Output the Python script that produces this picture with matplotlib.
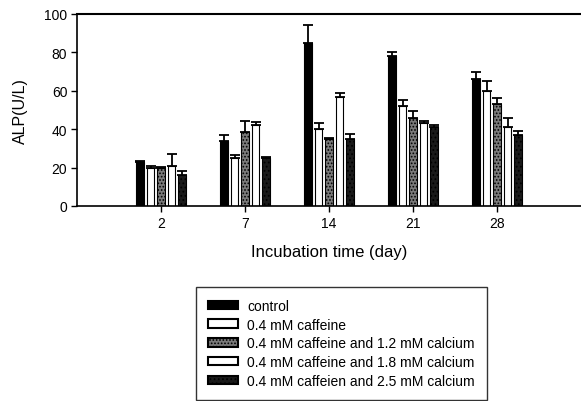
import numpy as np
import matplotlib
matplotlib.use('Agg')
import matplotlib.pyplot as plt
from matplotlib.patches import Patch

plt.rcParams['font.family'] = ['Liberation Sans', 'DejaVu Sans']
plt.rcParams['hatch.linewidth'] = 0.8

days = ['2', '7', '14', '21', '28']
labels = ['control', '0.4 mM caffeine', '0.4 mM caffeine and 1.2 mM calcium',
          '0.4 mM caffeine and 1.8 mM calcium', '0.4 mM caffeien and 2.5 mM calcium']

control = [23, 34, 85, 78, 66]
caff = [20, 25, 40, 52, 60]
caff_12 = [20, 38.5, 35, 46, 53]
caff_18 = [21, 42, 57, 43, 41]
caff_25 = [16, 25, 35, 41, 37]

control_err = [0.5, 3, 9.5, 2, 4]
caff_err = [1, 1.5, 3, 3, 5]
caff_12_err = [0.5, 6, 0.5, 3.5, 3.5]
caff_18_err = [6, 2, 2, 1.5, 5]
caff_25_err = [2, 0.5, 2.5, 1, 2]

series = [control, caff, caff_12, caff_18, caff_25]
errs = [control_err, caff_err, caff_12_err, caff_18_err, caff_25_err]
faces = ['black', 'white', '#7a7a7a', 'white', '#1a1a1a']
hatches = [None, None, '.....', None, '....']

fig = plt.figure(figsize=(5.81, 4.02), dpi=100)
ax = fig.add_axes([77/581, 1-207/402, 504/581, 192/402])

x = np.arange(len(days))
pitch = 0.125
w = 0.095
for i in range(5):
    pos = x + (i-2)*pitch
    ax.bar(pos, series[i], width=w, color=faces[i], edgecolor='black',
           linewidth=0.8, hatch=hatches[i], zorder=2)
    ax.errorbar(pos, series[i], yerr=[np.zeros(5), errs[i]], fmt='none',
                ecolor='black', elinewidth=1.3, capsize=3.8, capthick=1.3, zorder=3)

ax.set_xlim(-1, 5)
ax.set_ylim(0, 100)
ax.set_xticks(x)
ax.set_xticklabels(days)
ax.set_yticks([0, 20, 40, 60, 80, 100])
ax.tick_params(direction='out', length=4, width=1, labelsize=10, pad=3)
ax.spines['right'].set_visible(False)
ax.spines['top'].set_linewidth(1.5)
ax.spines['bottom'].set_linewidth(1.2)
ax.spines['left'].set_linewidth(1.2)
ax.set_ylabel('ALP(U/L)', fontsize=11.5, labelpad=12)
ax.set_xlabel('Incubation time (day)', fontsize=12, labelpad=10)

handles = [Patch(facecolor=faces[i], edgecolor='black', hatch=hatches[i], linewidth=1.5)
           for i in range(5)]
leg = fig.legend(handles, labels, loc='upper left', bbox_to_anchor=(196/581, 1-288/402),
                 fontsize=10, frameon=True, fancybox=False, edgecolor='black',
                 handlelength=2.15, handleheight=0.55, handletextpad=0.7,
                 labelspacing=0.34, borderpad=0.85, borderaxespad=0)
leg.get_frame().set_linewidth(1.0)

fig.savefig('out.png', dpi=100)
